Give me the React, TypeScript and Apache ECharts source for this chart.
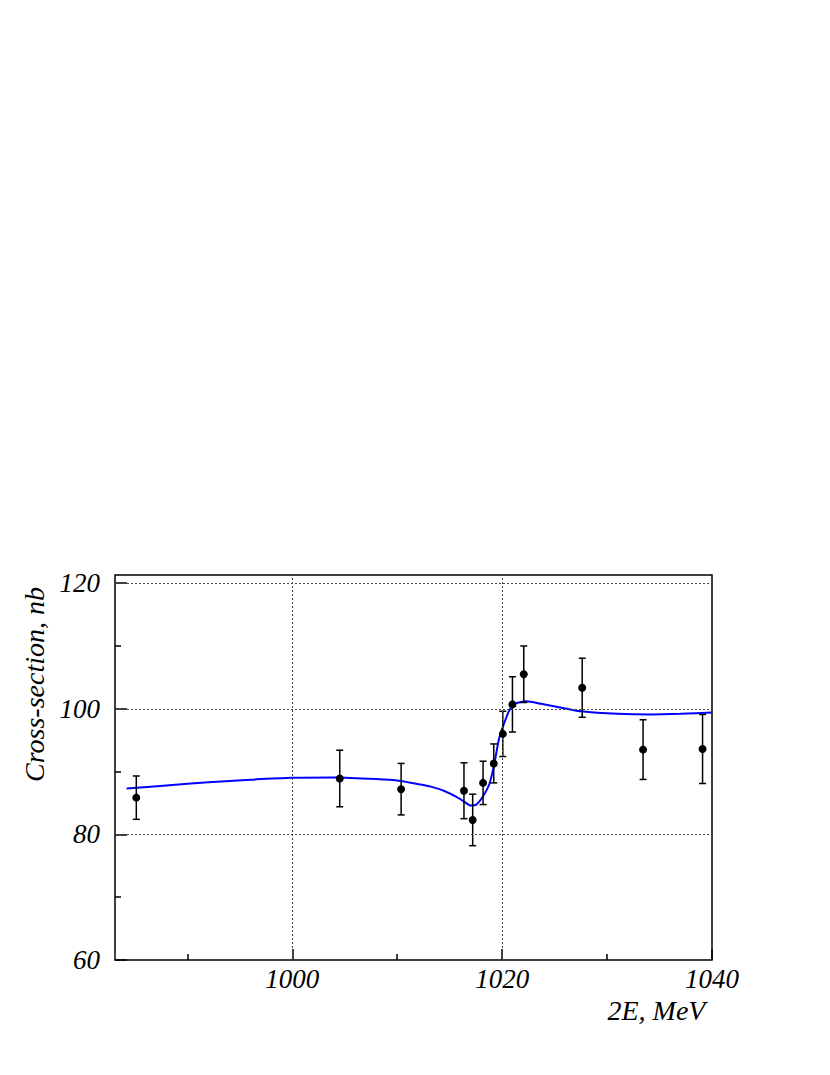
import React, { useEffect, useRef } from 'react';
import * as echarts from 'echarts';

// Measured points: energy (MeV), cross-section (nb), error (nb)
const energies = [985.13, 1004.52, 1010.37, 1016.36, 1017.19, 1018.18, 1019.2, 1020.06, 1020.98, 1022.06, 1027.63, 1033.43, 1039.1];
const sigma = [85.85, 88.9, 87.2, 86.95, 82.3, 88.2, 91.3, 96.0, 100.7, 105.5, 103.35, 93.5, 93.6];
const errors = [3.45, 4.5, 4.1, 4.45, 4.1, 3.45, 3.1, 3.6, 4.4, 4.5, 4.7, 4.75, 5.5];

// Fit curve
const fitEnergies = [984.2, 988, 992, 996, 1000, 1004, 1008, 1010.3, 1012, 1013.2, 1014.5, 1015.6, 1016.3, 1017.0, 1017.5, 1018.15, 1018.8, 1019.26, 1019.67, 1020.06, 1020.7, 1021.3, 1022.3, 1023.7, 1025.9, 1027.5, 1031, 1034.2, 1037, 1040];
const fitSigma = [87.3, 87.8, 88.3, 88.7, 89.0, 89.05, 88.8, 88.5, 88.0, 87.6, 86.9, 86.0, 85.3, 84.6, 84.7, 86.0, 88.1, 91.3, 95.0, 97.1, 99.8, 100.86, 101.2, 100.8, 100.1, 99.6, 99.2, 99.1, 99.2, 99.4];

const xMajorTicks = [1000, 1020, 1040];
const xMinorTicks = [990, 1010, 1030];
const yMajorTicks = [60, 80, 100, 120];
const yMinorTicks = [70, 90, 110];
const xGridValues = [1000, 1020];
const yGridValues = [80, 100, 120];

const X_MIN = 983.1;
const X_MAX = 1040;
const Y_MIN = 60;
const Y_MAX = 121.3;

const FONT = "'Liberation Serif', 'Times New Roman', serif";

export default function App() {
  const ref = useRef<HTMLDivElement>(null);
  useEffect(() => {
    if (!ref.current) return;
    const chart = echarts.init(ref.current, undefined, { renderer: 'svg' });
    const labelStyle = {
      fontFamily: FONT,
      fontStyle: 'italic',
      fontSize: 27,
      color: '#000',
    };
    const tickLine = { color: '#000', width: 1.5 };
    const plain = (v: number) => String(Math.round(v));
    const baseX = {
      type: 'value',
      min: X_MIN,
      max: X_MAX,
      position: 'bottom',
      gridIndex: 0,
      axisLine: { show: false },
      splitLine: { show: false },
    };
    const baseY = {
      type: 'value',
      min: Y_MIN,
      max: Y_MAX,
      position: 'left',
      gridIndex: 0,
      axisLine: { show: false },
      splitLine: { show: false },
    };
    chart.setOption({
      animation: false,
      backgroundColor: '#fff',
      grid: {
        left: 115,
        top: 575,
        right: 118,
        bottom: 115,
        show: true,
        borderColor: '#000',
        borderWidth: 1.5,
        backgroundColor: 'transparent',
      },
      xAxis: [
        {
          ...baseX,
          name: '2E, MeV',
          nameLocation: 'middle',
          nameGap: 36,
          nameTextStyle: { ...labelStyle, fontSize: 28, padding: [0, 0, 0, 486] },
          axisTick: { show: true, inside: true, length: 11, lineStyle: tickLine, customValues: xMajorTicks },
          axisLabel: { show: true, margin: 5, customValues: xMajorTicks, formatter: plain, ...labelStyle },
        },
        {
          ...baseX,
          axisTick: { show: true, inside: true, length: 6, lineStyle: tickLine, customValues: xMinorTicks },
          axisLabel: { show: false },
        },
      ],
      yAxis: [
        {
          ...baseY,
          name: 'Cross-section, nb',
          nameLocation: 'middle',
          nameGap: 66,
          nameTextStyle: { ...labelStyle, fontSize: 28, padding: [0, 0, 0, 166] },
          axisTick: { show: true, inside: true, length: 12, lineStyle: tickLine, customValues: yMajorTicks },
          axisLabel: { show: true, margin: 15, customValues: yMajorTicks, formatter: plain, ...labelStyle },
        },
        {
          ...baseY,
          axisTick: { show: true, inside: true, length: 6, lineStyle: tickLine, customValues: yMinorTicks },
          axisLabel: { show: false },
        },
      ],
      series: [
        {
          type: 'line',
          name: 'grid',
          data: [],
          xAxisIndex: 0,
          yAxisIndex: 0,
          markLine: {
            silent: true,
            symbol: 'none',
            label: { show: false },
            lineStyle: { color: '#444', width: 1, type: [2, 2] },
            data: [
              ...xGridValues.map((v) => ({ xAxis: v })),
              ...yGridValues.map((v) => ({ yAxis: v })),
            ],
          },
        },
        {
          type: 'line',
          name: 'fit',
          xAxisIndex: 0,
          yAxisIndex: 0,
          data: fitEnergies.map((x, i) => [x, fitSigma[i]]),
          showSymbol: false,
          symbol: 'none',
          smooth: 0.2,
          lineStyle: { color: '#0000ff', width: 2 },
          z: 3,
        },
        {
          type: 'custom',
          name: 'errors',
          xAxisIndex: 0,
          yAxisIndex: 0,
          data: energies.map((x, i) => [x, sigma[i], errors[i]]),
          encode: { x: 0, y: 1 },
          renderItem: (params: any, api: any) => {
            const x = api.value(0);
            const y = api.value(1);
            const e = api.value(2);
            const top = api.coord([x, y + e]);
            const bot = api.coord([x, y - e]);
            const cap = 3.5;
            const style = { stroke: '#000', lineWidth: 1.5 };
            return {
              type: 'group',
              children: [
                { type: 'line', shape: { x1: top[0], y1: top[1], x2: bot[0], y2: bot[1] }, style },
                { type: 'line', shape: { x1: top[0] - cap, y1: top[1], x2: top[0] + cap, y2: top[1] }, style },
                { type: 'line', shape: { x1: bot[0] - cap, y1: bot[1], x2: bot[0] + cap, y2: bot[1] }, style },
              ],
            };
          },
          z: 4,
        },
        {
          type: 'scatter',
          name: 'data',
          xAxisIndex: 0,
          yAxisIndex: 0,
          data: energies.map((x, i) => [x, sigma[i]]),
          symbol: 'circle',
          symbolSize: 8,
          itemStyle: { color: '#000', opacity: 1 },
          z: 5,
        },
      ],
    });
    return () => chart.dispose();
  }, []);
  return (
    <div
      ref={ref}
      style={{ position: 'absolute', left: 0, top: 0, width: 830, height: 1075 }}
    />
  );
}
